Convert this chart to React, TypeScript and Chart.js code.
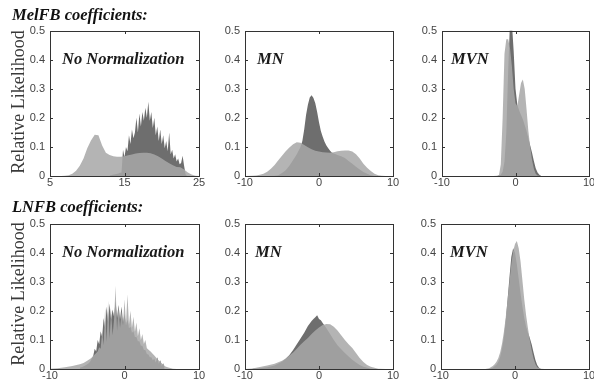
import React, { useEffect, useRef } from 'react';
import { Chart, registerables } from 'chart.js';

Chart.register(...registerables);

// ---------------- data ----------------
// MelFB, No Normalization
const melRawLightX = [5,5.5,6,6.5,7,7.5,8,8.5,9,9.5,10,10.5,11,11.5,12,12.5,13,13.5,14,14.5,15,15.5,16,16.5,17,17.5,18,18.5,19,19.5,20,20.5,21,21.5,22,22.5,23,23.5,24,24.5,25];
const melRawLight = [0,0,0,0,0.001,0.003,0.008,0.018,0.035,0.06,0.095,0.122,0.142,0.14,0.105,0.08,0.072,0.068,0.066,0.066,0.068,0.071,0.074,0.077,0.079,0.08,0.08,0.078,0.074,0.068,0.06,0.052,0.044,0.037,0.031,0.03,0.022,0.012,0.005,0.001,0];
const melRawDarkX = [13,13.2,13.4,13.6,13.8,14,14.2,14.4,14.6,14.8,15,15.2,15.4,15.6,15.8,16,16.2,16.4,16.6,16.8,17,17.2,17.4,17.6,17.8,18,18.2,18.4,18.6,18.8,19,19.2,19.4,19.6,19.8,20,20.2,20.4,20.6,20.8,21,21.2,21.4,21.6,21.8,22,22.2,22.4,22.6,22.8,23,23.2,23.4];
const melRawDark = [0.002,0.003,0.004,0.005,0.006,0.008,0.009,0.011,0.012,0.09,0.065,0.1,0.085,0.14,0.11,0.16,0.13,0.15,0.2,0.15,0.215,0.17,0.22,0.19,0.235,0.2,0.255,0.19,0.22,0.165,0.2,0.14,0.17,0.12,0.16,0.11,0.14,0.095,0.12,0.085,0.15,0.075,0.09,0.06,0.075,0.05,0.06,0.04,0.045,0.07,0.035,0.005,0];

// MelFB, MN
const melMnLightX = [-10,-9,-8.5,-8,-7.5,-7,-6.5,-6,-5.5,-5,-4.5,-4,-3.5,-3,-2.5,-2,-1.5,-1,-0.5,0,0.5,1,1.5,2,2.5,3,3.5,4,4.5,5,5.5,6,6.5,7,7.5,8,8.5,9,10];
const melMnLight = [0,0.001,0.002,0.004,0.008,0.015,0.025,0.038,0.054,0.07,0.085,0.098,0.109,0.116,0.114,0.107,0.099,0.092,0.087,0.084,0.082,0.081,0.08,0.082,0.085,0.087,0.088,0.088,0.084,0.075,0.06,0.042,0.028,0.017,0.008,0.003,0.001,0,0];
const melMnDarkX = [-7,-6,-5.5,-5,-4.5,-4,-3.5,-3,-2.5,-2.25,-2,-1.75,-1.5,-1.25,-1,-0.75,-0.5,-0.25,0,0.25,0.5,0.75,1,1.25,1.5,1.75,2,2.5,3,3.5,4,4.5,5,5.5,6,6.5,7,7.5];
const melMnDark = [0,0.001,0.003,0.01,0.02,0.035,0.055,0.075,0.1,0.12,0.16,0.21,0.245,0.27,0.278,0.268,0.25,0.22,0.185,0.155,0.135,0.118,0.105,0.095,0.087,0.08,0.077,0.072,0.068,0.062,0.052,0.042,0.032,0.022,0.014,0.008,0.003,0];

// MelFB, MVN
const melMvnLightX = [-3,-2.5,-2.25,-2,-1.75,-1.5,-1.25,-1,-0.75,-0.5,-0.25,0,0.25,0.5,0.75,1,1.25,1.5,1.75,2,2.25,2.5,2.75,3,3.5];
const melMvnLight = [0,0.001,0.003,0.04,0.2,0.42,0.47,0.47,0.44,0.38,0.3,0.25,0.24,0.28,0.32,0.332,0.3,0.23,0.155,0.1,0.055,0.025,0.008,0.002,0];
const melMvnDarkX = [-2.5,-2,-1.75,-1.5,-1.25,-1,-0.75,-0.5,-0.25,0,0.25,0.5,0.75,1,1.25,1.5,1.75,2,2.25,2.5,2.75,3,3.25,3.5];
const melMvnDark = [0,0.004,0.015,0.05,0.15,0.36,0.53,0.53,0.43,0.3,0.245,0.225,0.21,0.195,0.175,0.155,0.13,0.105,0.08,0.052,0.027,0.012,0.004,0];

// LNFB, No Normalization
const lnRawLightX = [-10,-9,-8,-7,-6,-5.5,-5,-4.5,-4.2,-4,-3.8,-3.6,-3.4,-3.2,-3,-2.8,-2.6,-2.4,-2.2,-2,-1.8,-1.6,-1.4,-1.2,-1,-0.8,-0.6,-0.4,-0.2,0,0.2,0.4,0.6,0.8,1,1.2,1.4,1.6,1.8,2,2.2,2.4,2.6,2.8,3,3.5,4,4.5,5,5.5,6,6.5,7];
const lnRawLight = [0.001,0.003,0.006,0.01,0.016,0.021,0.028,0.037,0.045,0.05,0.055,0.06,0.075,0.07,0.13,0.082,0.21,0.093,0.235,0.104,0.2,0.115,0.17,0.286,0.131,0.22,0.141,0.2,0.15,0.24,0.155,0.257,0.152,0.2,0.141,0.18,0.128,0.16,0.113,0.14,0.1,0.12,0.086,0.1,0.071,0.06,0.046,0.032,0.02,0.009,0.004,0.001,0];
const lnRawDarkX = [-6,-5.8,-5.6,-5.4,-5.2,-5,-4.8,-4.6,-4.4,-4.2,-4,-3.8,-3.6,-3.4,-3.2,-3,-2.8,-2.6,-2.4,-2.2,-2,-1.8,-1.6,-1.4,-1.2,-1,-0.8,-0.6,-0.4,-0.2,0,0.2,0.4,0.6,0.8,1,1.2,1.4,1.6,1.8,2,2.2,2.4,2.6,2.8,3,3.2,3.4,3.6,3.8,4,4.2,4.4,4.6,4.8,5,5.2,5.4];
const lnRawDark = [0.004,0.006,0.008,0.01,0.013,0.016,0.02,0.026,0.035,0.045,0.07,0.06,0.1,0.085,0.13,0.11,0.175,0.14,0.215,0.16,0.225,0.17,0.205,0.18,0.235,0.175,0.22,0.17,0.215,0.16,0.19,0.15,0.17,0.14,0.145,0.125,0.13,0.11,0.11,0.095,0.095,0.08,0.08,0.065,0.065,0.052,0.05,0.04,0.04,0.03,0.035,0.022,0.04,0.018,0.03,0.01,0.02,0];

// LNFB, MN
const lnMnLightX = [-10,-9,-8,-7,-6,-5,-4.5,-4,-3.5,-3,-2.5,-2,-1.5,-1,-0.5,0,0.5,1,1.5,2,2.5,3,3.5,4,4.5,5,5.5,6,6.5,7,7.5,8,9,10];
const lnMnLight = [0,0.002,0.007,0.012,0.018,0.028,0.036,0.046,0.057,0.07,0.083,0.095,0.107,0.12,0.132,0.143,0.151,0.155,0.154,0.145,0.132,0.116,0.1,0.085,0.072,0.055,0.038,0.024,0.014,0.008,0.004,0.001,0,0];
const lnMnDarkX = [-9,-8,-7,-6,-5,-4.5,-4,-3.5,-3,-2.5,-2,-1.5,-1,-0.75,-0.5,-0.25,0,0.25,0.5,1,1.5,2,2.5,3,3.5,4,4.5,5,5.5,6,6.5,7,7.5];
const lnMnDark = [0.001,0.003,0.006,0.012,0.025,0.035,0.048,0.065,0.085,0.105,0.125,0.148,0.165,0.172,0.178,0.185,0.172,0.168,0.158,0.14,0.12,0.1,0.082,0.068,0.055,0.043,0.032,0.022,0.014,0.008,0.004,0.001,0];

// LNFB, MVN
const lnMvnLightX = [-4,-3.5,-3,-2.75,-2.5,-2.25,-2,-1.75,-1.5,-1.25,-1,-0.75,-0.5,-0.25,0,0.25,0.5,0.75,1,1.25,1.5,1.75,2,2.25,2.5,2.75,3,3.5,4];
const lnMvnLight = [0,0.003,0.01,0.016,0.025,0.038,0.058,0.088,0.128,0.178,0.238,0.3,0.36,0.405,0.43,0.44,0.415,0.37,0.305,0.24,0.185,0.14,0.1,0.065,0.037,0.017,0.006,0.001,0];
const lnMvnDarkX = [-3.5,-3,-2.5,-2.25,-2,-1.75,-1.5,-1.25,-1,-0.75,-0.5,-0.25,0,0.25,0.5,0.75,1,1.25,1.5,1.75,2,2.25,2.5,2.75,3,3.25,3.5];
const lnMvnDark = [0,0.004,0.015,0.025,0.042,0.07,0.11,0.168,0.24,0.315,0.385,0.415,0.4,0.36,0.31,0.26,0.215,0.175,0.145,0.125,0.107,0.085,0.058,0.032,0.014,0.004,0];

const yTicks = [0, 0.1, 0.2, 0.3, 0.4, 0.5];
const panelLabels = ['No Normalization', 'MN', 'MVN'];
const rowTitles = ['MelFB coefficients:', 'LNFB coefficients:'];
const yAxisTitle = 'Relative Likelihood';

// ---------------- styling ----------------
const SANS = '"Liberation Sans", Arial, sans-serif';
const SERIF = '"Liberation Serif", "Times New Roman", serif';
const DARK = '#6e6e6e';
const LIGHT = 'rgba(168,168,168,0.86)';
const AXIS_W = 40;
const AXIS_H = 22;
const PAD_T = 10;
const PAD_R = 10;

type PanelCfg = {
  L: number; T: number; R: number; B: number;
  xMin: number; xMax: number;
  label: string; dx: number;
  lightX: number[]; light: number[];
  darkX: number[]; dark: number[];
};

const panels: PanelCfg[] = [
  { L: 50, T: 29, R: 199, B: 176, xMin: 5, xMax: 25, label: panelLabels[0], dx: 12, lightX: melRawLightX, light: melRawLight, darkX: melRawDarkX, dark: melRawDark },
  { L: 245, T: 29, R: 393, B: 176, xMin: -10, xMax: 10, label: panelLabels[1], dx: 12, lightX: melMnLightX, light: melMnLight, darkX: melMnDarkX, dark: melMnDark },
  { L: 442, T: 29, R: 589, B: 176, xMin: -10, xMax: 10, label: panelLabels[2], dx: 9, lightX: melMvnLightX, light: melMvnLight, darkX: melMvnDarkX, dark: melMvnDark },
  { L: 50, T: 222, R: 199, B: 369, xMin: -10, xMax: 10, label: panelLabels[0], dx: 12, lightX: lnRawLightX, light: lnRawLight, darkX: lnRawDarkX, dark: lnRawDark },
  { L: 245, T: 222, R: 393, B: 369, xMin: -10, xMax: 10, label: panelLabels[1], dx: 10, lightX: lnMnLightX, light: lnMnLight, darkX: lnMnDarkX, dark: lnMnDark },
  { L: 441, T: 222, R: 589, B: 369, xMin: -10, xMax: 10, label: panelLabels[2], dx: 9, lightX: lnMvnLightX, light: lnMvnLight, darkX: lnMvnDarkX, dark: lnMvnDark },
];

const framePlugin = {
  id: 'frameTicks',
  afterDatasetsDraw(chart: any, _args: any, opts: any) {
    const { ctx, chartArea } = chart;
    const left = Math.round(chartArea.left);
    const top = Math.round(chartArea.top);
    const right = Math.round(chartArea.right);
    const bottom = Math.round(chartArea.bottom);
    const xs = chart.scales.x;
    const ys = chart.scales.y;
    const tl = 3;
    ctx.save();
    ctx.strokeStyle = '#333';
    ctx.lineWidth = 1;
    ctx.beginPath();
    xs.ticks.forEach((t: any) => {
      const px = Math.round(xs.getPixelForValue(t.value)) + 0.5;
      ctx.moveTo(px, bottom); ctx.lineTo(px, bottom - tl);
      ctx.moveTo(px, top); ctx.lineTo(px, top + tl);
    });
    ys.ticks.forEach((t: any) => {
      const py = Math.round(ys.getPixelForValue(t.value)) + 0.5;
      ctx.moveTo(left, py); ctx.lineTo(left + tl, py);
      ctx.moveTo(right, py); ctx.lineTo(right - tl, py);
    });
    ctx.stroke();
    ctx.strokeRect(left + 0.5, top + 0.5, right - left, bottom - top);
    ctx.fillStyle = '#1a1a1a';
    ctx.font = `italic bold 16.5px ${SERIF}`;
    ctx.textBaseline = 'alphabetic';
    ctx.textAlign = 'left';
    ctx.fillText(opts.text, left + opts.dx, top + 33);
    ctx.restore();
  },
};

function Panel({ cfg }: { cfg: PanelCfg }) {
  const ref = useRef<HTMLCanvasElement>(null);
  const width = cfg.R - cfg.L + AXIS_W + PAD_R;
  const height = cfg.B - cfg.T + PAD_T + AXIS_H;
  useEffect(() => {
    const chart = new Chart(ref.current as HTMLCanvasElement, {
      type: 'line',
      data: {
        datasets: [
          {
            data: cfg.lightX.map((x, i) => ({ x, y: cfg.light[i] })),
            backgroundColor: LIGHT,
            borderColor: 'rgba(0,0,0,0)',
            borderWidth: 0,
            pointRadius: 0,
            tension: 0,
            fill: 'origin',
          },
          {
            data: cfg.darkX.map((x, i) => ({ x, y: cfg.dark[i] })),
            backgroundColor: DARK,
            borderColor: 'rgba(0,0,0,0)',
            borderWidth: 0,
            pointRadius: 0,
            tension: 0,
            fill: 'origin',
          },
        ],
      } as any,
      options: {
        responsive: false,
        animation: false,
        devicePixelRatio: 1,
        layout: { padding: { top: PAD_T, right: PAD_R, left: 0, bottom: 0 } },
        plugins: {
          legend: { display: false },
          tooltip: { enabled: false },
          frameTicks: { text: cfg.label, dx: cfg.dx },
        } as any,
        scales: {
          x: {
            type: 'linear',
            min: cfg.xMin,
            max: cfg.xMax,
            grid: { display: false, drawTicks: false },
            border: { display: false },
            ticks: {
              stepSize: 10,
              autoSkip: false,
              maxRotation: 0,
              minRotation: 0,
              padding: 0,
              color: '#444',
              font: { family: SANS, size: 11 },
            },
            afterFit: (s: any) => { s.height = AXIS_H; },
          },
          y: {
            type: 'linear',
            min: yTicks[0],
            max: yTicks[yTicks.length - 1],
            grid: { display: false, drawTicks: false },
            border: { display: false },
            ticks: {
              stepSize: 0.1,
              padding: 5,
              color: '#444',
              font: { family: SANS, size: 11 },
              callback: (v: any) => {
                const n = Math.round(Number(v) * 10) / 10;
                return n === 0 ? '0' : n.toFixed(1);
              },
            },
            afterFit: (s: any) => { s.width = AXIS_W; },
          },
        },
      } as any,
      plugins: [framePlugin],
    });
    return () => chart.destroy();
  }, []);
  return (
    <canvas
      ref={ref}
      width={width}
      height={height}
      style={{ position: 'absolute', left: cfg.L - AXIS_W, top: cfg.T - PAD_T, width, height, display: 'block' }}
    />
  );
}

export default function App() {
  const titleStyle: React.CSSProperties = {
    position: 'absolute',
    left: 12,
    fontFamily: SERIF,
    fontWeight: 'bold',
    fontStyle: 'italic',
    fontSize: '16.5px',
    lineHeight: '16.5px',
    color: '#111',
    whiteSpace: 'nowrap',
  };
  const yLabelStyle = (cy: number): React.CSSProperties => ({
    position: 'absolute',
    left: 18 - 100,
    top: cy - 9,
    width: 200,
    height: 18,
    lineHeight: '18px',
    textAlign: 'center',
    fontFamily: SERIF,
    fontSize: '18px',
    color: '#3a3a3a',
    transform: 'rotate(-90deg)',
    transformOrigin: '50% 50%',
    whiteSpace: 'nowrap',
  });
  return (
    <div style={{ position: 'absolute', left: 0, top: 0, width: 594, height: 388, overflow: 'hidden', background: '#fff' }}>
      {panels.map((p, i) => <Panel key={i} cfg={p} />)}
      <div style={{ ...titleStyle, top: 6.7 }}>{rowTitles[0]}</div>
      <div style={{ ...titleStyle, top: 198.7 }}>{rowTitles[1]}</div>
      <div style={yLabelStyle(101.5)}>{yAxisTitle}</div>
      <div style={yLabelStyle(294)}>{yAxisTitle}</div>
    </div>
  );
}
